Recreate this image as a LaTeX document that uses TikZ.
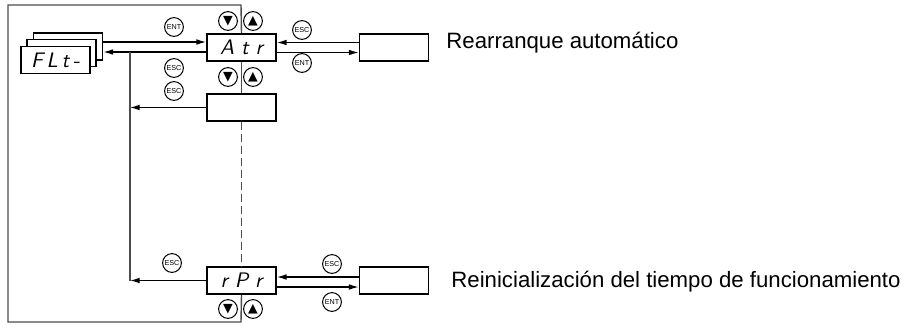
\documentclass[tikz,border=0pt]{standalone}
\usepackage{fontspec}
\setmainfont{Liberation Sans}
\newfontfamily\symfont{DejaVu Sans}
\usetikzlibrary{arrows.meta}
\tikzset{>={Latex[width=1mm,length=1.7mm]}}
\tikzset{
  disp/.style={draw, line width=0.9pt, fill=white, minimum width=34.5pt,
    minimum height=13.5pt, inner sep=0pt, font=\sffamily\itshape\fontsize{10.5}{10}\selectfont},
  btn/.style={draw, circle, line width=0.5pt, minimum size=9.4pt, inner sep=0pt,
    font=\fontsize{3.6}{4}\selectfont},
  key/.style={btn, font=\symfont\fontsize{6.3}{6}\selectfont},
  frame/.style={draw=black!70, line width=0.7pt},
  link/.style={line width=0.6pt},
  lbl/.style={anchor=base west, inner sep=0pt, font=\fontsize{11.1}{13}\selectfont}
}

\begin{document}
\begin{tikzpicture}[x=0.5pt,y=-0.5pt]
  \useasboundingbox (0,0) rectangle (904,327);
  % Draw the menu stack and the displays
  \node[disp] (flt3) at (68,46.5) {};
  \node[disp] (flt2) at (61.5,53) {};
  \node[disp] (flt1) at (55.5,60) {F\hspace{1.8pt}L\hspace{1.8pt}t\hspace{1.8pt}-\hspace{2pt}};
  \node[disp] (atr) at (241.5,47.5) {A\hspace{3.5pt}t\hspace{3.5pt}r};
  \node[disp] (blank) at (241.5,107.5) {};
  \node[disp] (rpr) at (241.5,280.5) {r\hspace{3.5pt}P\hspace{3.5pt}r};
  \node[disp] (atrR) at (394,47.5) {};
  \node[disp] (rprR) at (394,280.5) {};
  % Draw the frame and the column line
  \draw[frame] (atr.north) -- (241,5) -- (8,5) -- (8,322) -- (241,322) -- (rpr.south);
  \draw[frame] (atr.south) -- (blank.north);
  \draw[frame, dash pattern=on 4pt off 2pt] (blank.south) -- (rpr.north);
  % Draw arrows between the menu and the displays
  \coordinate (col) at (130,0);
  \coordinate (atrin) at ([yshift=2.75pt]atr.west);
  \coordinate (atrout) at ([yshift=-2.25pt]atr.west);
  \draw[link, ->] (atrin -| flt3.east) -- (atrin);
  \draw[link, ->] (atrout) -- (atrout -| flt3.east);
  \draw[frame] (atrout -| col) -- (rpr.west -| col);
  \draw[link, ->] (blank.west) -- (blank.west -| col);
  \draw[link, ->] (rpr.west) -- (rpr.west -| col);
  \draw[link, ->] ([yshift=2.5pt]atrR.west) -- ([yshift=2.5pt]atr.east);
  \draw[link, ->] ([yshift=-2.5pt]atr.east) -- ([yshift=-2.5pt]atrR.west);
  \draw[link, ->] ([yshift=1.75pt]rprR.west) -- ([yshift=1.75pt]rpr.east);
  \draw[link, ->] ([yshift=-3.25pt]rpr.east) -- ([yshift=-3.25pt]rprR.west);
  % Draw the keys
  \node[btn] (entA) at (174,27) {ENT};
  \node[btn] (escA) at (174,68) {ESC};
  \node[btn] (escB) at (174,91) {ESC};
  \node[btn] (escC) at (172,263) {ESC};
  \node[btn] (escAR) at (302,30) {ESC};
  \node[btn] (entAR) at (302,63) {ENT};
  \node[btn] (escCR) at (332,264) {ESC};
  \node[btn] (entCR) at (332,302) {ENT};
  \foreach \n/\y in {a/21, b/77, c/309} {
    \node[key] (dn\n) at (228,\y) {▼};
    \node[key] (up\n) at (253,\y) {▲}; }
  % Labels
  \node[lbl] (lblA) at (446,48) {Rearranque automático};
  \node[lbl] (lblC) at (451,287) {Reinicialización del tiempo de funcionamiento};
\end{tikzpicture}
\end{document}
